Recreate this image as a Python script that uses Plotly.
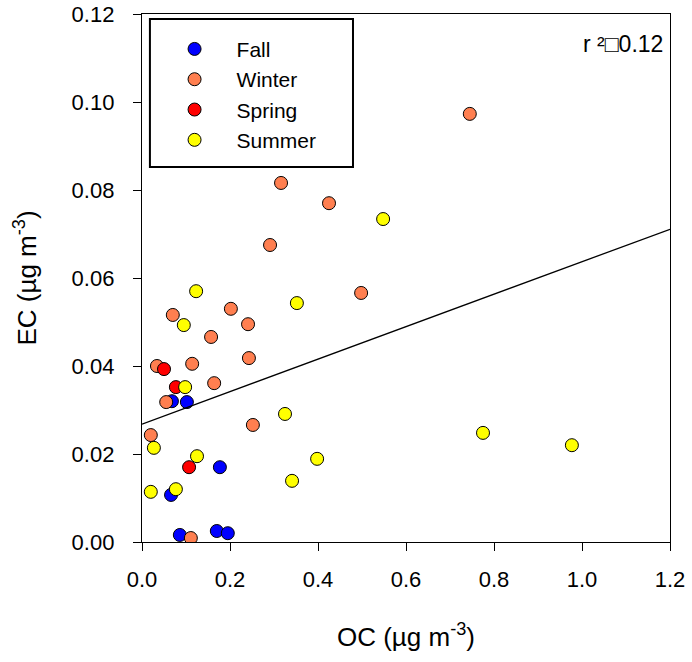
import plotly.graph_objects as go

# ---- data ----
fall_oc = [0.068, 0.102, 0.177, 0.066, 0.086, 0.170, 0.195]
fall_ec = [0.0320, 0.0318, 0.0170, 0.0107, 0.0016, 0.0025, 0.0020]

winter_oc = [0.745, 0.316, 0.425, 0.291, 0.498, 0.202, 0.070, 0.241, 0.157,
             0.243, 0.034, 0.114, 0.164, 0.055, 0.252, 0.020, 0.111]
winter_ec = [0.0973, 0.0816, 0.0770, 0.0675, 0.0566, 0.0530, 0.0516, 0.0495, 0.0466,
             0.0418, 0.0400, 0.0405, 0.0361, 0.0318, 0.0266, 0.0243, 0.0009]

spring_oc = [0.050, 0.077, 0.107]
spring_ec = [0.0393, 0.0352, 0.0170]

summer_oc = [0.548, 0.123, 0.352, 0.095, 0.098, 0.027, 0.125, 0.020, 0.077,
             0.325, 0.398, 0.341, 0.775, 0.977]
summer_ec = [0.0734, 0.0570, 0.0543, 0.0493, 0.0352, 0.0214, 0.0195, 0.0114, 0.0120,
             0.0291, 0.0189, 0.0139, 0.0248, 0.0220]

fit_intercept = 0.0268
fit_slope = 0.0369
fit_x = [0.0, 1.2]
r2_label = "r \u00b2\u25a10.12"

x_ticks = [0.0, 0.2, 0.4, 0.6, 0.8, 1.0, 1.2]
y_ticks = [0.00, 0.02, 0.04, 0.06, 0.08, 0.10, 0.12]

FONT = "Liberation Sans, Arial, sans-serif"

series = [
    ("Fall", fall_oc, fall_ec, "#0000FF"),
    ("Winter", winter_oc, winter_ec, "#FF7F50"),
    ("Spring", spring_oc, spring_ec, "#FF0000"),
    ("Summer", summer_oc, summer_ec, "#FFFF00"),
]

fig = go.Figure()
for name, xs, ys, col in series:
    fig.add_trace(go.Scatter(
        x=xs, y=ys, mode="markers", name=name,
        marker=dict(size=13, color=col, line=dict(color="black", width=1)),
    ))

fit_y = [fit_intercept + fit_slope * v for v in fit_x]
fig.add_trace(go.Scatter(x=fit_x, y=fit_y, mode="lines", showlegend=False,
                         line=dict(color="black", width=1.3)))

axis_common = dict(
    showgrid=False, zeroline=False, showline=True, linecolor="black", linewidth=1.3,
    mirror=True, ticks="outside", ticklen=8, tickwidth=1.3, tickcolor="black",
    tickfont=dict(family=FONT, size=22, color="black"), automargin=False,
)

fig.update_layout(
    width=692, height=662,
    margin=dict(l=142, r=22, t=14, b=120),
    paper_bgcolor="white", plot_bgcolor="white",
    xaxis=dict(range=[0, 1.2], tickvals=x_ticks, ticktext=[f"{v:.1f}" for v in x_ticks],
               title=dict(text="OC (\u00b5g m<sup>-3</sup>)", font=dict(family=FONT, size=26, color="black"),
                          standoff=37),
               ticklabelstandoff=9, **axis_common),
    yaxis=dict(range=[0, 0.12], tickvals=y_ticks, ticktext=[f"{v:.2f}" for v in y_ticks],
               title=dict(text="EC (\u00b5g m<sup>-3</sup>)", font=dict(family=FONT, size=26, color="black"),
                          standoff=27),
               ticklabelstandoff=14, **axis_common),
    legend=dict(x=0.02, y=0.972, xanchor="left", yanchor="top",
                bgcolor="rgba(0,0,0,0)", borderwidth=0,
                font=dict(family=FONT, size=21, color="black"),
                itemwidth=74, tracegroupgap=0),
    showlegend=True,
    shapes=[dict(type="rect", xref="paper", yref="paper",
                 x0=0.015, x1=0.3996, y0=0.710, y1=0.9905,
                 line=dict(color="black", width=2), fillcolor="rgba(0,0,0,0)")],
    annotations=[dict(text=r2_label, xref="paper", yref="paper", x=0.9905, y=0.943,
                      xanchor="right", yanchor="middle", showarrow=False,
                      font=dict(family=FONT, size=23, color="black"))],
)

fig.write_html("out.html")
